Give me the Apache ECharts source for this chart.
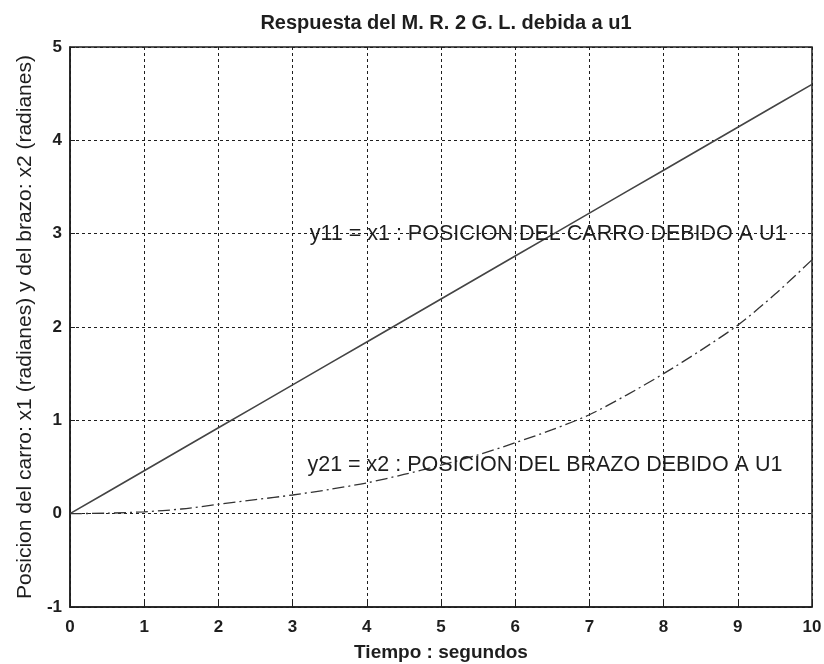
<!DOCTYPE html>
<html>
<head>
<meta charset="utf-8">
<script src="https://cdn.jsdelivr.net/npm/echarts@6/dist/echarts.min.js"></script>
<style>
  html, body { margin: 0; padding: 0; background: #fff; }
  #chart { width: 824px; height: 664px; }
</style>
</head>
<body>
<div id="chart"></div>
<script>
// tiempo (s) y respuestas
const tiempo = [0, 0.5, 1, 1.5, 2, 2.5, 3, 3.5, 4, 4.5, 5, 5.5, 6, 6.5, 7, 7.5, 8, 8.5, 9, 9.5, 10];
const x1Carro = [0, 0.23, 0.46, 0.69, 0.92, 1.15, 1.38, 1.61, 1.84, 2.07, 2.3, 2.53, 2.76, 2.99, 3.22, 3.45, 3.68, 3.91, 4.14, 4.37, 4.6];
const x2Brazo = [0, 0.005, 0.02, 0.05, 0.1, 0.15, 0.2, 0.26, 0.33, 0.42, 0.52, 0.63, 0.76, 0.9, 1.06, 1.27, 1.5, 1.75, 2.02, 2.35, 2.72];
const xTicks = [0, 1, 2, 3, 4, 5, 6, 7, 8, 9, 10];
const yTicks = [-1, 0, 1, 2, 3, 4, 5];
const etiquetas = [
  { text: 'y11 = x1 : POSICION DEL CARRO DEBIDO A U1', coord: [3.23, 3] },
  { text: 'y21 = x2 : POSICION DEL BRAZO DEBIDO A U1', coord: [3.2, 0.52] }
];

const font = 'Liberation Sans, Arial, sans-serif';
const ink = '#1e1e1e';
const chart = echarts.init(document.getElementById('chart'));

const pairs = (xs, ys) => xs.map((x, i) => [x, ys[i]]);

chart.setOption({
  animation: false,
  title: {
    text: 'Respuesta del M. R. 2 G. L. debida a u1',
    left: 441, top: 8, textAlign: 'center',
    textStyle: { fontFamily: font, fontSize: 20, fontWeight: 'bold', color: ink }
  },
  grid: { left: 70, right: 12, top: 47, bottom: 57, outerBoundsMode: 'none',
    show: true, borderColor: ink, borderWidth: 1.5, backgroundColor: '#fff' },
  xAxis: {
    type: 'value', min: 0, max: 10, interval: 1,
    name: 'Tiempo : segundos', nameLocation: 'middle', nameGap: 36,
    nameTextStyle: { fontFamily: font, fontSize: 19, fontWeight: 'bold', color: ink },
    axisLine: { onZero: false, lineStyle: { color: ink, width: 1.5 } },
    axisTick: { inside: true, length: 5, lineStyle: { color: ink } },
    axisLabel: { fontFamily: font, fontSize: 17, fontWeight: 'bold', color: ink, margin: 12,
      formatter: v => xTicks.includes(v) ? String(v) : '' },
    splitLine: { lineStyle: { color: ink, type: [3, 3], width: 1 } }
  },
  yAxis: {
    type: 'value', min: -1, max: 5, interval: 1,
    name: 'Posicion del carro: x1 (radianes) y del brazo: x2 (radianes)', nameLocation: 'middle', nameGap: 28,
    nameTextStyle: { fontFamily: font, fontSize: 21, color: ink },
    axisLine: { onZero: false, lineStyle: { color: ink, width: 1.5 } },
    axisTick: { inside: true, length: 5, lineStyle: { color: ink } },
    axisLabel: { fontFamily: font, fontSize: 17, fontWeight: 'bold', color: ink, margin: 8,
      formatter: v => yTicks.includes(v) ? String(v) : '' },
    splitLine: { lineStyle: { color: ink, type: [3, 3], width: 1 } }
  },
  series: [
    {
      name: 'x1', type: 'line', data: pairs(tiempo, x1Carro), showSymbol: false,
      lineStyle: { color: '#444', width: 1.6 },
      markPoint: {
        symbol: 'circle', symbolSize: 0, silent: true,
        label: { show: true, position: 'right', distance: 0, fontFamily: font, fontSize: 21.5, color: ink,
          formatter: p => p.name },
        data: etiquetas.map(e => ({ name: e.text, coord: e.coord }))
      }
    },
    {
      name: 'x2', type: 'line', data: pairs(tiempo, x2Brazo), showSymbol: false, smooth: 0.3,
      lineStyle: { color: '#333', width: 1.3, type: [12, 4, 2, 4] }
    }
  ]
});
</script>
</body>
</html>
